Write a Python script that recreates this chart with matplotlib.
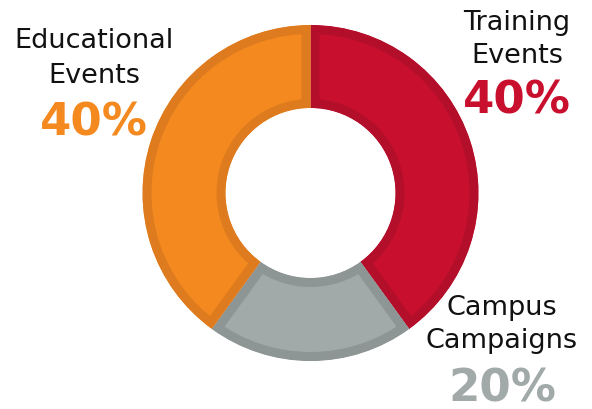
import matplotlib
matplotlib.use("Agg")
import matplotlib.pyplot as plt
from matplotlib.patches import Wedge

categories = ["Training\nEvents", "Campus\nCampaigns", "Educational\nEvents"]
values = [40, 20, 40]
pct_labels = ["40%", "20%", "40%"]
fill_colors = ["#C8102E", "#A2A9A9", "#F4891F"]
edge_colors = ["#B30F2B", "#8E9595", "#DE7B1E"]

W, H = 592, 409
fig = plt.figure(figsize=(W / 100, H / 100), dpi=100)
ax = fig.add_axes([0, 0, 1, 1])
ax.set_xlim(0, W)
ax.set_ylim(0, H)
ax.set_aspect("equal")
ax.axis("off")

cx, cy = 310.5, H - 193
r_out, r_in = 168, 85
border_px = 9
lw = 2 * border_px * 72 / 100

total = sum(values)
start = 90.0
for v, fc, ec in zip(values, fill_colors, edge_colors):
    span = 360.0 * v / total
    w = Wedge((cx, cy), r_out, start - span, start, width=r_out - r_in,
              facecolor=fc, edgecolor=ec, linewidth=lw, joinstyle="miter")
    ax.add_patch(w)
    w.set_clip_path(w)
    start -= span

font = "DejaVu Sans"
# label positions (pixel coords of text center x, baseline y of each line / pct)
label_pos = [(517, [30, 63], 114), (502, [315, 348], 401), (94, [48, 83], 136)]
for cat, pct, col, (x, ys, py) in zip(categories, pct_labels, fill_colors, label_pos):
    for line, yb in zip(cat.split("\n"), ys):
        ax.text(x, H - yb, line, ha="center", va="baseline", fontsize=19.5,
                family=font, color="#111111")
    ax.text(x, H - py, pct, ha="center", va="baseline", fontsize=32.5,
            family=font, fontweight="bold", color=col)

fig.savefig("out.png", dpi=100)
